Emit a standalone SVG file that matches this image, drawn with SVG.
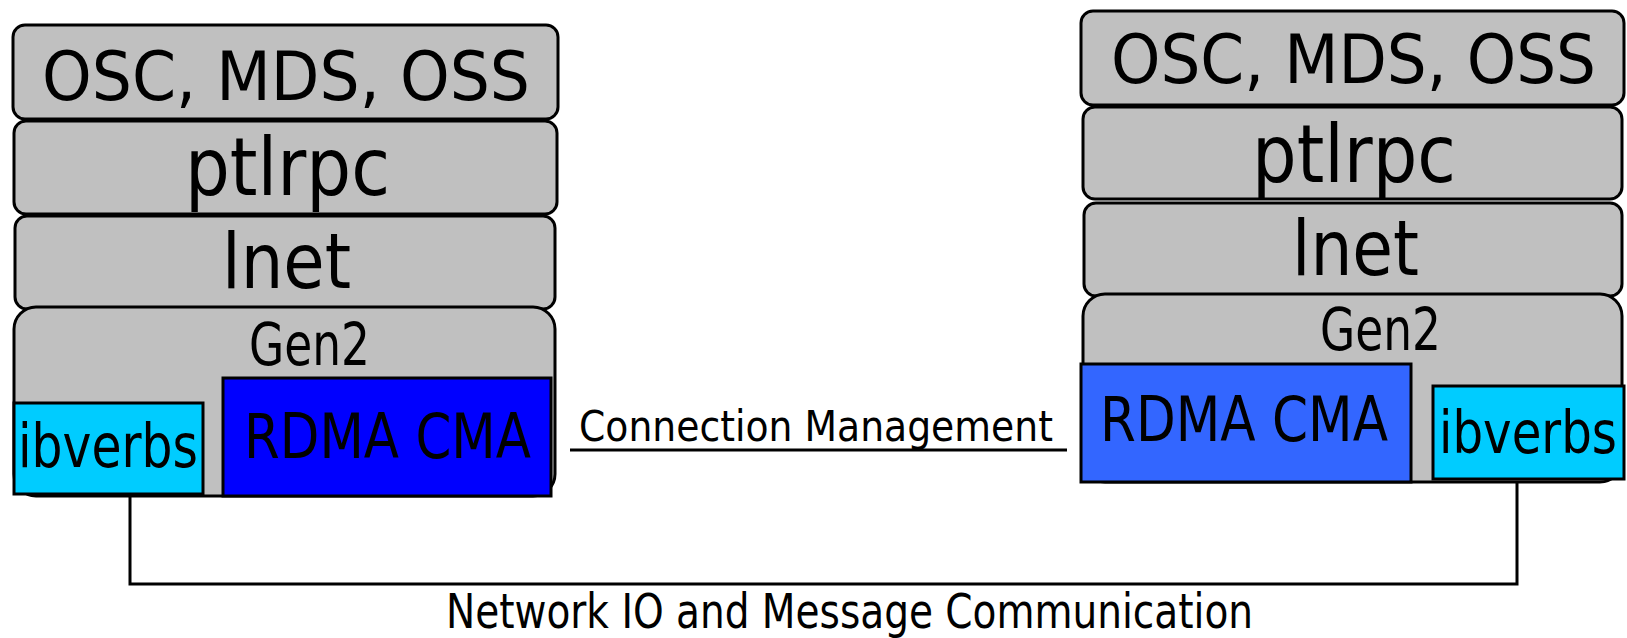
<svg xmlns="http://www.w3.org/2000/svg" width="1627" height="638" viewBox="0 0 1627 638">
<style>
.layer{fill:#c0c0c0;stroke:#000;stroke-width:3}
.t{font-family:"DejaVu Sans","Liberation Sans",sans-serif;fill:#000;text-anchor:middle}
.c{font-family:"DejaVu Sans Condensed","DejaVu Sans","Liberation Sans",sans-serif;fill:#000;text-anchor:middle}
.ib{fill:#00ccff;stroke:#000;stroke-width:3}
.conn{stroke:#000;stroke-width:3;fill:none}
</style>
<rect width="1627" height="638" fill="#fff"/>
<g id="left-osc"><rect class="layer" x="13" y="25" width="545" height="94" rx="12"/><text class="t" x="286" y="100" font-size="68" textLength="488" lengthAdjust="spacingAndGlyphs">OSC, MDS, OSS</text></g>
<g id="left-ptlrpc"><rect class="layer" x="14" y="121" width="543" height="93" rx="12"/><text class="t" x="287.5" y="195" font-size="80" textLength="205" lengthAdjust="spacingAndGlyphs">ptlrpc</text></g>
<g id="left-lnet"><rect class="layer" x="15" y="216" width="540" height="93" rx="12"/><text class="t" x="286.5" y="288" font-size="76" textLength="129" lengthAdjust="spacingAndGlyphs">lnet</text></g>
<g id="left-gen2"><rect class="layer" x="14" y="307" width="541" height="189" rx="22"/><text class="t" x="309.5" y="365" font-size="58" textLength="121" lengthAdjust="spacingAndGlyphs">Gen2</text></g>
<g id="left-ibverbs"><rect class="ib" x="14" y="403" width="189" height="91"/><text class="c" x="108" y="467" font-size="60" textLength="180" lengthAdjust="spacingAndGlyphs">ibverbs</text></g>
<g id="left-rdma"><rect x="223" y="378" width="328" height="118" fill="#0000ff" stroke="#000" stroke-width="3"/><text class="t" x="387.5" y="458" font-size="62" textLength="287" lengthAdjust="spacingAndGlyphs">RDMA CMA</text></g>
<g id="right-osc"><rect class="layer" x="1081" y="11" width="543" height="94" rx="12"/><text class="t" x="1353.5" y="83" font-size="68" textLength="485" lengthAdjust="spacingAndGlyphs">OSC, MDS, OSS</text></g>
<g id="right-ptlrpc"><rect class="layer" x="1083" y="107" width="539" height="92" rx="12"/><text class="t" x="1354" y="182" font-size="80" textLength="204" lengthAdjust="spacingAndGlyphs">ptlrpc</text></g>
<g id="right-lnet"><rect class="layer" x="1084" y="203" width="538" height="93" rx="12"/><text class="t" x="1355.5" y="275" font-size="76" textLength="127" lengthAdjust="spacingAndGlyphs">lnet</text></g>
<g id="right-gen2"><rect class="layer" x="1083" y="294" width="539" height="188" rx="22"/><text class="t" x="1380.5" y="350" font-size="58" textLength="121" lengthAdjust="spacingAndGlyphs">Gen2</text></g>
<g id="right-rdma"><rect x="1081" y="364" width="330" height="118" fill="#3366ff" stroke="#000" stroke-width="3"/><text class="t" x="1244" y="441" font-size="62" textLength="288" lengthAdjust="spacingAndGlyphs">RDMA CMA</text></g>
<g id="right-ibverbs"><rect class="ib" x="1433" y="386" width="191" height="93"/><text class="c" x="1528" y="453" font-size="58" textLength="178" lengthAdjust="spacingAndGlyphs">ibverbs</text></g>
<g id="connectors">
<line class="conn" x1="570" y1="450" x2="1067" y2="450"/>
<text class="t" x="816" y="441" font-size="43" textLength="474" lengthAdjust="spacingAndGlyphs">Connection Management</text>
<polyline class="conn" points="130,496 130,584 1517,584 1517,482"/>
<text class="t" x="849.5" y="628" font-size="48" textLength="807" lengthAdjust="spacingAndGlyphs">Network IO and Message Communication</text>
</g>
</svg>
